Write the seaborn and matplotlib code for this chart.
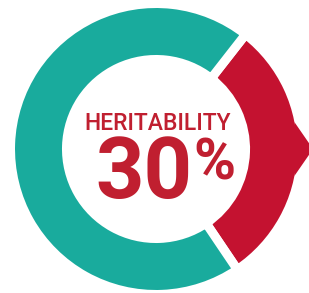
"""Heritability donut: one highlighted share against the rest."""

import matplotlib.pyplot as plt
import numpy as np
import seaborn as sns
from matplotlib.patches import Polygon

labels = ["Heritable", "Other"]
shares = [30, 70]
colors = ["#c41230", "#19ab9d"]
text_red = "#c01f30"

sns.set_theme(style="white")
plt.rcParams["font.family"] = ["Roboto", "DejaVu Sans"]

W, H = 309, 293
fig = plt.figure(figsize=(W / 100, H / 100), dpi=100)
ax = fig.add_axes([0, 0, 1, 1])

cx, cy = 156, H - 149
radius = 145.5
ring = 56

wedges, _ = ax.pie(
    shares,
    colors=colors,
    startangle=-56,
    counterclock=True,
    center=(cx, cy),
    radius=radius,
    explode=[0.028, 0],
    wedgeprops=dict(width=ring, edgecolor="white", linewidth=6.5),
    frame=True,
)
ax.set_xlim(0, W)
ax.set_ylim(0, H)
ax.set_aspect("equal")
ax.axis("off")

# small pointer on the outside of the highlighted wedge
hw = wedges[0]
mid = np.deg2rad((hw.theta1 + hw.theta2) / 2 + 2)
hx, hy = hw.center
r_out = hw.r - 4.5
spread = np.deg2rad(11)
pts = [
    (hx + r_out * np.cos(mid + spread), hy + r_out * np.sin(mid + spread)),
    (hx + (r_out + 16) * np.cos(mid), hy + (r_out + 16) * np.sin(mid)),
    (hx + r_out * np.cos(mid - spread), hy + r_out * np.sin(mid - spread)),
]
ax.add_patch(Polygon(pts, closed=True, color=colors[0], lw=0))

ax.text(158, H - 123, "HERITABILITY", color=text_red, fontsize=16.5,
        fontweight="medium", ha="center", va="center")
ax.text(192, H - 198, f"{shares[0]}", color=text_red, fontsize=61,
        fontweight="bold", ha="right", va="baseline")
ax.text(193, H - 180, "%", color=text_red, fontsize=41,
        fontweight="bold", ha="left", va="baseline")

fig.savefig("out.png", dpi=100)
